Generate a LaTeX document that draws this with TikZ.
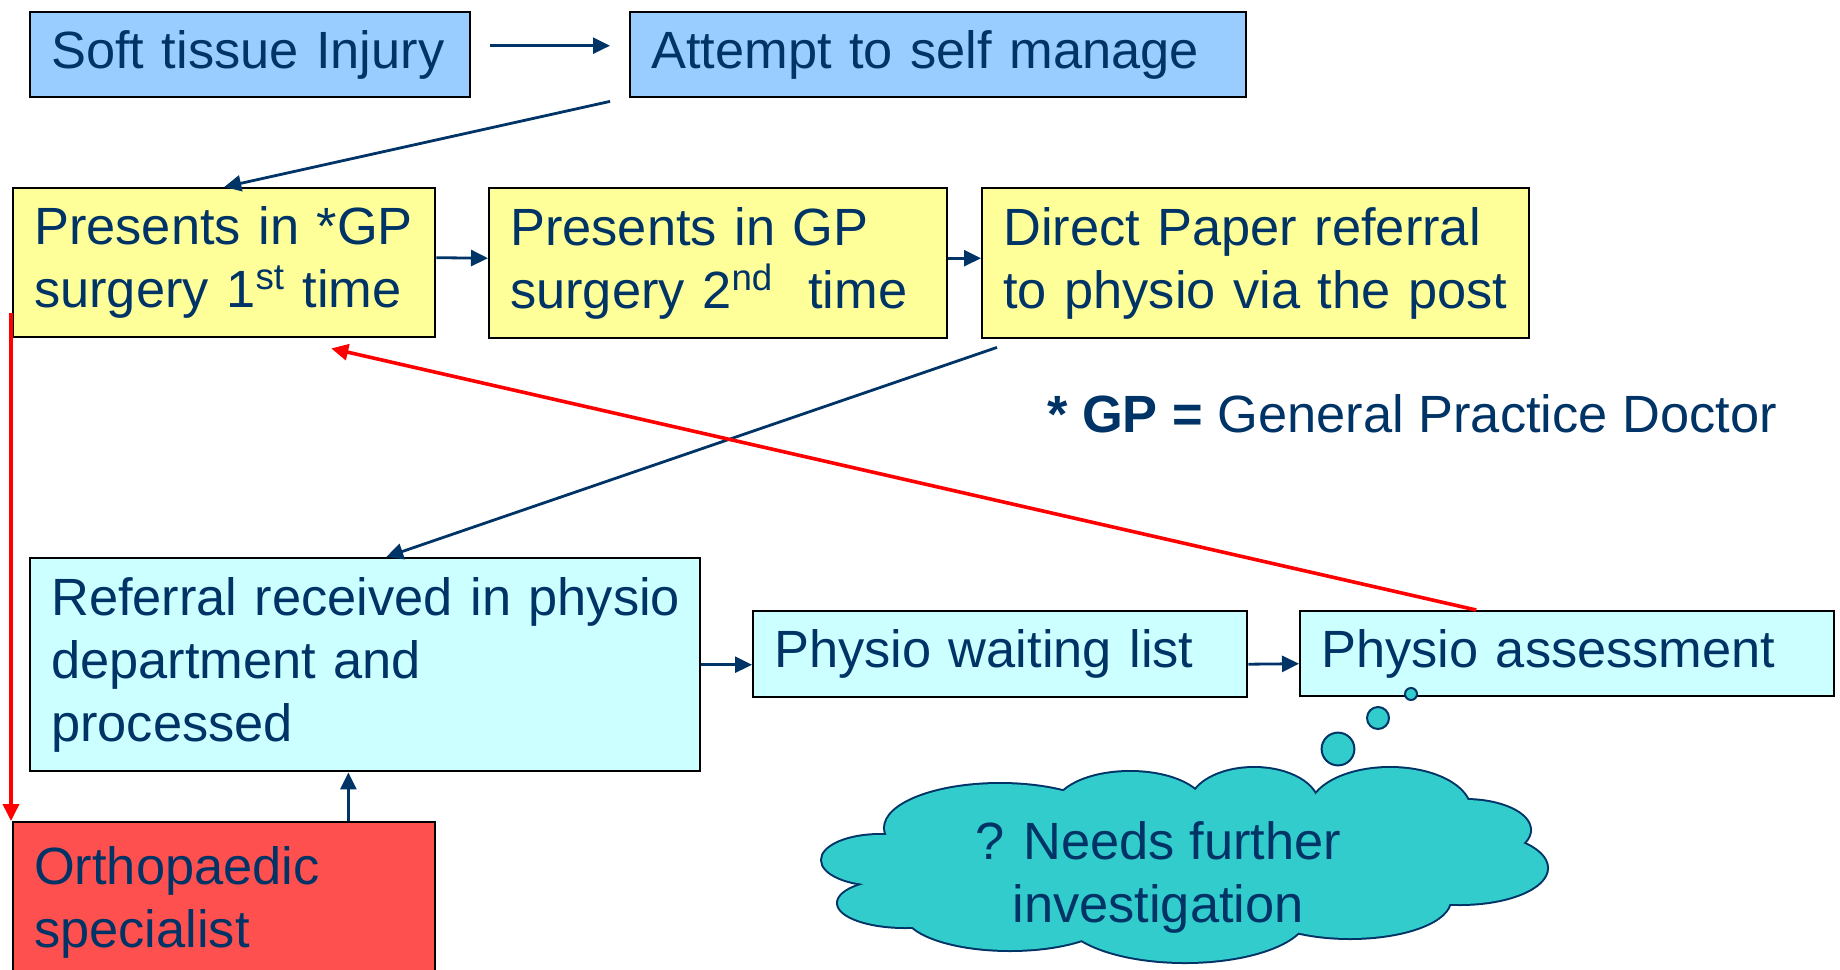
\documentclass[tikz,border=0pt]{standalone}
\usepackage{fontspec}
\setmainfont{Liberation Sans}
\usepackage{tikz}
\usepackage{xcolor}
\usetikzlibrary{arrows.meta}
\definecolor{navy}{HTML}{003366}
\definecolor{skyfill}{HTML}{99CCFF}
\definecolor{paleyellow}{HTML}{FFFF99}
\definecolor{palecyan}{HTML}{CCFFFF}
\definecolor{salmon}{HTML}{FF5050}
\definecolor{tealfill}{HTML}{33CCCC}
\definecolor{alarm}{HTML}{FF0000}
% puffs of the thought cloud: centre x / centre y / x radius / y radius
\newcommand{\puffs}{880/860/58/25, 905/903/67/24, 1010/913/105/37, 1185/915/122/47,
  1000/828/115/44, 1130/808/75/36, 1254/805/64/37, 1390/810/80/42,
  1465/830/65/30, 1460/868/87/36, 1350/900/100/38}

\begin{document}
\begin{tikzpicture}[x=0.5pt, y=-0.5pt, >={Triangle[length=8.5pt, width=8pt]},
  stage/.style={draw=black, line width=1.2pt, text=navy, align=left,
    anchor=north west, inner xsep=10.5pt, inner ysep=0pt,
    font=\fontsize{26.2}{31.5}\selectfont},
  flow/.style={->, draw=navy, line width=1.4pt},
  back/.style={->, draw=alarm, line width=1.8pt}]
  \useasboundingbox (0,0) rectangle (1840,969);

  % top row
  \node[stage, fill=skyfill, text width=199pt, minimum height=42.5pt] (injury) at (29,11) {Soft tissue Injury};
  \node[stage, fill=skyfill, text width=287pt, minimum height=42.5pt] (selfcare) at (629,11) {Attempt to self manage};

  % GP visits
  \node[stage, fill=paleyellow, text width=190pt, minimum height=74.5pt] (gpfirst) at (12,187) {Presents in *GP\\surgery 1\textsuperscript{st} time};
  \node[stage, fill=paleyellow, text width=208pt, minimum height=75pt] (gpsecond) at (488,187) {Presents in GP\\surgery 2\textsuperscript{nd}\ \ time};
  \node[stage, fill=paleyellow, text width=252.5pt, minimum height=75pt] (paper) at (981,187) {Direct Paper referral\\to physio via the post};

  \node[text=navy, font=\fontsize{26.2}{31.5}\selectfont] (note) at (1412,414) {\textbf{* GP =} General Practice Doctor};

  % physio department
  \node[stage, fill=palecyan, text width=314pt, minimum height=106.5pt] (received) at (29,557) {\mbox{Referral received in physio}\\department and\\processed};
  \node[stage, fill=palecyan, text width=226pt, minimum height=43pt] (waiting) at (752,610) {Physio waiting list};
  \node[stage, fill=palecyan, text width=246pt, minimum height=42.5pt] (assess) at (1299,610) {Physio assessment};
  \node[stage, fill=salmon, text width=190pt, minimum height=80pt] (ortho) at (12,821) {Orthopaedic\\specialist};

  % thought cloud: thick outlines first, fills on top leave the outer edge
  \foreach \cx/\cy/\rx/\ry in \puffs
    \draw[navy, line width=2pt] (\cx,\cy) ellipse[x radius=\rx, y radius=\ry];
  \foreach \cx/\cy/\rx/\ry in \puffs
    \fill[tealfill] (\cx,\cy) ellipse[x radius=\rx, y radius=\ry];
  \fill[tealfill] (1180,862) ellipse[x radius=290, y radius=60];
  \node[text=navy, align=center, font=\fontsize{26.2}{31.5}\selectfont] (query) at (1158,877) {? Needs further\\investigation};
  \draw[navy, fill=tealfill, line width=1pt] (1411,694) circle[radius=3pt];
  \draw[navy, fill=tealfill, line width=1pt] (1378,718) circle[radius=5.5pt];
  \draw[navy, fill=tealfill, line width=1pt] (1338,749) circle[radius=8.2pt];

  % connectors
  \draw[flow, shorten <=9.5pt, shorten >=9.5pt] ([yshift=4.5pt]injury.east) -- ([yshift=4.5pt]selfcare.west);
  \draw[flow] ([xshift=-9.5pt, yshift=-1.5pt]selfcare.south west) -- (gpfirst.north);
  \draw[flow] ([yshift=2.5pt]gpfirst.east) -- ([yshift=2.5pt]gpsecond.west);
  \draw[flow] ([yshift=2.5pt]gpsecond.east) -- ([yshift=2.5pt]paper.west);
  \draw[flow] ([xshift=8pt, yshift=-4pt]paper.south west) -- ([xshift=10.5pt]received.north);
  \draw[flow] (received.east) -- (received.east -| waiting.west);
  \draw[flow] ([yshift=-5pt]waiting.east) -- ([yshift=-5pt]assess.west);
  \draw[flow] ([xshift=-44pt]ortho.north east) -- ([xshift=-44pt]ortho.north east |- received.south);
  \draw[back] ([xshift=-45.5pt]assess.north) -- ([xshift=53.5pt, yshift=-5pt]gpfirst.south);
  \draw[back] ([xshift=-0.5pt, yshift=12.5pt]gpfirst.south west) -- ([xshift=-0.5pt]ortho.north west);
\end{tikzpicture}
\end{document}
